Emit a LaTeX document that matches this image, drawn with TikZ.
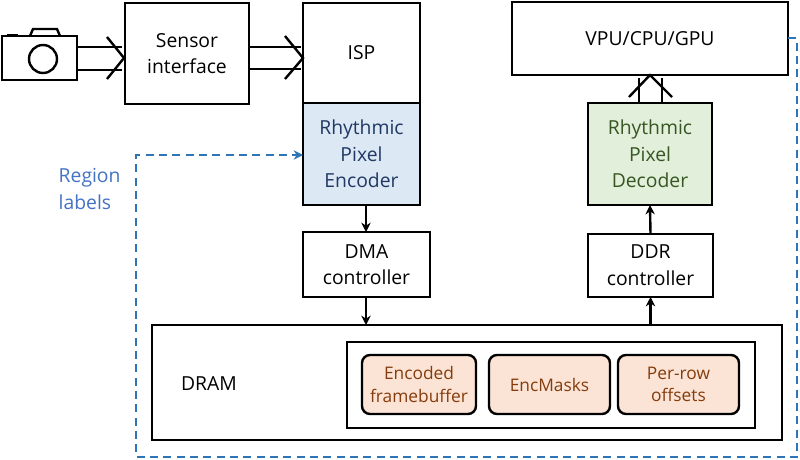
\documentclass[tikz,border=0pt]{standalone}
\usepackage{fontspec}
\setmainfont{Open Sans}
\usetikzlibrary{arrows.meta,positioning,calc}
\definecolor{encblue}{HTML}{DDE8F5}
\definecolor{enctext}{HTML}{1F3864}
\definecolor{decgreen}{HTML}{E2EFDA}
\definecolor{dectext}{HTML}{375623}
\definecolor{bufpeach}{HTML}{FBE4D5}
\definecolor{buftext}{HTML}{843C0C}
\definecolor{regionblue}{HTML}{2E75B6}
\definecolor{labelblue}{HTML}{4472C4}

\begin{document}
\begin{tikzpicture}[x=0.75pt,y=-0.75pt,
    block/.style={rectangle, draw, line width=1.8pt, inner sep=0pt, outer sep=0pt, align=center, font=\fontsize{14.5}{20}\selectfont},
    encblock/.style={block, fill=encblue, text=enctext},
    decblock/.style={block, fill=decgreen, text=dectext},
    bufblock/.style={block, rounded corners=6pt, fill=bufpeach, text=buftext, minimum width=90.75pt, minimum height=44.25pt, font=\fontsize{13}{17}\selectfont},
    busline/.style={line width=1.8pt},
    chevron/.style={line width=1.8pt},
    ctrl/.style={line width=1.8pt, -{Stealth[length=7pt,width=7pt]}},
    region/.style={regionblue, line width=1.5pt, dash pattern=on 6pt off 4pt}
]
\useasboundingbox (0,0) rectangle (800,460);

% camera
\draw[line width=1.8pt] (2,36) rectangle (77,80);
\draw[line width=1.8pt] (30,36) -- (33,29) -- (57,29) -- (60,36);
\draw[line width=1.8pt] (7,35) -- (18,35);
\draw[line width=1.8pt] (43,59) circle (14);
\coordinate (cam) at (77,58);

% blocks
\node[block, minimum width=93pt, minimum height=75.75pt] (sensor) at (187,53.5) {Sensor\\interface};
\node[block, minimum width=87.75pt, minimum height=75pt] (isp) at (361.5,53) {ISP};
\node[encblock, minimum width=87.75pt, minimum height=76.5pt] (enc) at (361.5,154) {Rhythmic\\Pixel\\Encoder};
\node[block, minimum width=95.25pt, minimum height=48.75pt] (dma) at (366.5,264.5) {DMA\\controller};
\node[block, minimum width=207pt, minimum height=54.75pt] (vpu) at (650,38.5) {VPU/CPU/GPU};
\node[decblock, minimum width=93pt, minimum height=76.5pt] (dec) at (650,154) {Rhythmic\\Pixel\\Decoder};
\node[block, minimum width=93.75pt, minimum height=47.25pt] (ddr) at (650.5,265.5) {DDR\\controller};
\node[block, minimum width=472.5pt, minimum height=86.25pt] (dram) at (467,382.5) {};
\node[block, draw=none] (dramtext) at (209,384) {DRAM};
\node[block, minimum width=306pt, minimum height=64.5pt] (inner) at (551,385) {};
\node[bufblock, minimum width=85.5pt] (fb) at (419,384.5) {Encoded\\framebuffer};
\node[bufblock] (masks) at (549.5,384.5) {EncMasks};
\node[bufblock] (offs) at (678.5,384.5) {Per-row\\offsets};

% wide buses
\coordinate (tip1) at (124,58);
\coordinate (tip2) at (303,58);
\draw[busline] (cam |- 0,47) -- (122,47);
\draw[busline] (cam |- 0,70) -- (122,70);
\draw[chevron] (107,37) -- (tip1) -- (107,79);
\draw[busline] (249,47) -- (301,47);
\draw[busline] (249,69) -- (301,69);
\draw[chevron] (285,36) -- (tip2) -- (285,79);
\draw[busline] (639,103) -- (639,78);
\draw[busline] (662,103) -- (662,78);
\draw[chevron] (629,97) -- (vpu.south) -- (672,97);

% control arrows
\draw[ctrl] (enc.south -| 366,0) -- (dma.north -| 366,0);
\draw[ctrl] (dma.south -| 366,0) -- (dram.north -| 366,0);
\draw[ctrl] (dram.north -| ddr.south) -- (ddr.south);
\draw[ctrl] (ddr.north) -- (dec.south);

% region labels path
\draw[region, -{Stealth[length=7pt,width=7pt]}] (vpu.east) -- (797,38.5) -- (797,457) -- (136,457) -- (136,155) -- (enc.west |- 0,155);
\node[anchor=west, align=left, text=labelblue, font=\fontsize{14.5}{20}\selectfont] (lbl) at (54,189) {Region\\labels};
\end{tikzpicture}
\end{document}
